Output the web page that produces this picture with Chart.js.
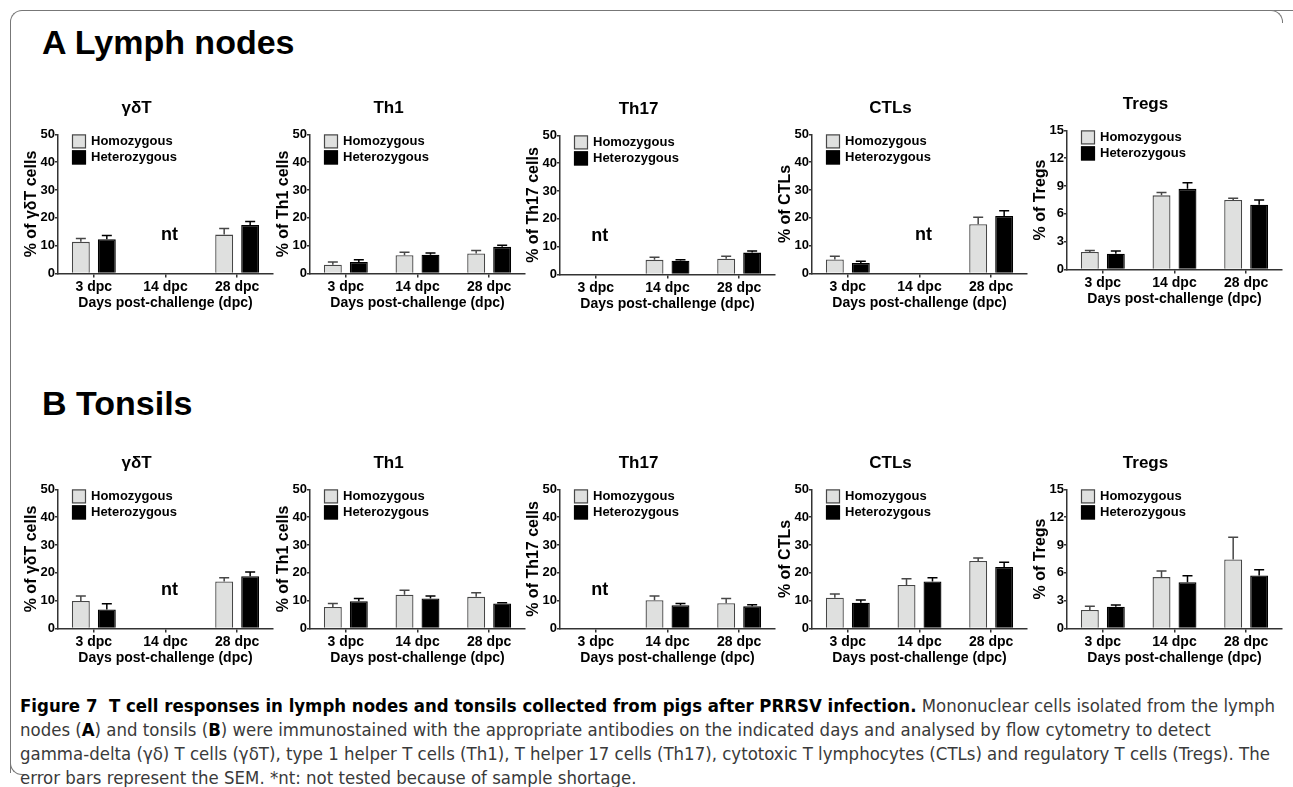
<!DOCTYPE html>
<html>
<head>
<meta charset="utf-8">
<script src="https://cdn.jsdelivr.net/npm/chart.js@4.4.1/dist/chart.umd.min.js"></script>
<style>
  html, body { margin: 0; padding: 0; background: #fff; }
  body { width: 1293px; height: 787px; position: relative; overflow: hidden; font-family: "Liberation Sans", Arial, sans-serif; }
  canvas { position: absolute; }
  .frame { position: absolute; left: 10px; top: 10px; width: 1290px; height: 762px; border-top: 1px solid #777; border-left: 1px solid #777; border-top-left-radius: 12px; }
  .corner-tr { position: absolute; left: 1268px; top: 10px; width: 14px; height: 12px; border-top: 1px solid #777; border-right: 1px solid #777; border-top-right-radius: 12px; background: #fff; }
  .corner-bl { position: absolute; left: 10px; top: 762px; width: 14px; height: 12px; border-left: 1px solid #777; border-bottom: 1px solid #777; border-bottom-left-radius: 12px; }
  .section { position: absolute; left: 42px; font-weight: bold; font-size: 34px; color: #000; line-height: 1; }
  .caption { position: absolute; left: 20px; top: 694px; font-family: "Liberation Sans Narrow", "DejaVu Sans Condensed", "Liberation Sans", sans-serif; font-size: 17px; line-height: 24px; color: #3a3a3a; }
  .caption div { white-space: nowrap; transform-origin: 0 50%; }
  .caption b { color: #000; }
</style>
</head>
<body>
<div class="frame"></div>
<div class="corner-tr"></div>
<div class="corner-bl"></div>
<div class="section" style="top:25px">A Lymph nodes</div>
<div class="section" style="top:386px">B Tonsils</div>

<canvas id="ln0"></canvas><canvas id="ln1"></canvas><canvas id="ln2"></canvas><canvas id="ln3"></canvas><canvas id="ln4"></canvas>
<canvas id="to0"></canvas><canvas id="to1"></canvas><canvas id="to2"></canvas><canvas id="to3"></canvas><canvas id="to4"></canvas>

<div class="caption" id="caption">
  <div><b>Figure 7&nbsp; T cell responses in lymph nodes and tonsils collected from pigs after PRRSV infection.</b> Mononuclear cells isolated from the lymph</div>
  <div>nodes (<b>A</b>) and tonsils (<b>B</b>) were immunostained with the appropriate antibodies on the indicated days and analysed by flow cytometry to detect</div>
  <div>gamma-delta (γδ) T cells (γδT), type 1 helper T cells (Th1), T helper 17 cells (Th17), cytotoxic T lymphocytes (CTLs) and regulatory T cells (Tregs). The</div>
  <div>error bars represent the SEM. *nt: not tested because of sample shortage.</div>
</div>

<script>
const categories = ['3 dpc', '14 dpc', '28 dpc'];
const seriesNames = ['Homozygous', 'Heterozygous'];
const panelTitles = ['γδT', 'Th1', 'Th17', 'CTLs', 'Tregs'];
const yAxisTitles = ['% of γδT cells', '% of Th1 cells', '% of Th17 cells', '% of CTLs', '% of Tregs'];
const yMax = [50, 50, 50, 50, 15];
const yStep = [10, 10, 10, 10, 3];

// A Lymph nodes: mean and SEM per day, null = not tested
const lnGdtHomo = [11.4, null, 14.0];
const lnGdtHomoSem = [1.2, null, 2.2];
const lnGdtHetero = [12.3, null, 17.5];
const lnGdtHeteroSem = [1.4, null, 1.2];

const lnTh1Homo = [3.2, 6.6, 7.2];
const lnTh1HomoSem = [1.0, 1.1, 1.1];
const lnTh1Hetero = [4.2, 6.8, 9.6];
const lnTh1HeteroSem = [0.8, 0.6, 0.6];

const lnTh17Homo = [null, 5.3, 5.7];
const lnTh17HomoSem = [null, 0.9, 0.9];
const lnTh17Hetero = [null, 5.0, 7.9];
const lnTh17HeteroSem = [null, 0.3, 0.6];

const lnCtlHomo = [5.1, null, 17.7];
const lnCtlHomoSem = [1.1, null, 2.5];
const lnCtlHetero = [3.8, null, 20.7];
const lnCtlHeteroSem = [0.6, null, 1.9];

const lnTregHomo = [1.9, 8.0, 7.5];
const lnTregHomoSem = [0.17, 0.3, 0.2];
const lnTregHetero = [1.7, 8.7, 7.0];
const lnTregHeteroSem = [0.3, 0.65, 0.5];

// B Tonsils
const toGdtHomo = [9.9, null, 16.9];
const toGdtHomoSem = [1.8, null, 1.4];
const toGdtHetero = [6.9, null, 18.8];
const toGdtHeteroSem = [2.0, null, 1.5];

const toTh1Homo = [7.8, 12.2, 11.4];
const toTh1HomoSem = [1.2, 1.6, 1.5];
const toTh1Hetero = [9.8, 10.8, 9.0];
const toTh1HeteroSem = [1.0, 0.9, 0.3];

const toTh17Homo = [null, 10.2, 9.1];
const toTh17HomoSem = [null, 1.5, 1.7];
const toTh17Hetero = [null, 8.4, 8.0];
const toTh17HeteroSem = [null, 0.6, 0.6];

const toCtlHomo = [11.1, 15.7, 24.3];
const toCtlHomoSem = [1.3, 2.2, 1.1];
const toCtlHetero = [9.3, 16.9, 22.1];
const toCtlHeteroSem = [1.0, 1.4, 1.7];

const toTregHomo = [2.0, 5.55, 7.45];
const toTregHomoSem = [0.4, 0.65, 2.4];
const toTregHetero = [2.36, 5.0, 5.73];
const toTregHeteroSem = [0.18, 0.7, 0.6];

// which day was not tested in each panel (index into categories)
const lnNotTested = [1, null, 0, 1, null];
const toNotTested = [1, null, 0, null, null];

const FONT = '"Liberation Sans", Arial, Helvetica, sans-serif';
const axisX = [58, 310, 560, 812, 1067];
const rowTop = [97.6, 452.6];
const lnShift = [0, 0, 1, 0, -4];

const errorBars = {
    id: 'errorBars',
    afterDatasetsDraw(chart) {
        const ctx = chart.ctx;
        const y = chart.scales.y;
        chart.data.datasets.forEach((ds, i) => {
            chart.getDatasetMeta(i).data.forEach((bar, j) => {
                const v = ds.data[j], e = ds.sem[j];
                if (v == null || e == null) return;
                const top = y.getPixelForValue(v + e);
                ctx.save();
                ctx.strokeStyle = ds.borderColor;
                ctx.lineWidth = 1.5;
                ctx.beginPath();
                ctx.moveTo(bar.x, bar.y);
                ctx.lineTo(bar.x, top);
                ctx.moveTo(bar.x - 5, top);
                ctx.lineTo(bar.x + 5, top);
                ctx.stroke();
                ctx.restore();
            });
        });
    }
};

const insideLegend = {
    id: 'insideLegend',
    afterDraw(chart) {
        const { ctx, chartArea } = chart;
        chart.data.datasets.forEach((ds, i) => {
            const x = chartArea.left + 14;
            const yc = chartArea.top + 7 + i * 16;
            ctx.save();
            ctx.fillStyle = ds.backgroundColor;
            ctx.fillRect(x, yc - 7, 14, 14);
            ctx.strokeStyle = ds.borderColor;
            ctx.lineWidth = 1.2;
            ctx.strokeRect(x + 0.5, yc - 6.5, 13, 13);
            ctx.fillStyle = '#000';
            ctx.font = 'bold 13px ' + FONT;
            ctx.textBaseline = 'middle';
            ctx.fillText(ds.label, x + 19, yc + 0.5);
            ctx.restore();
        });
    }
};

const notTestedLabel = {
    id: 'notTestedLabel',
    afterDraw(chart, args, opts) {
        if (opts.index == null) return;
        const { ctx, scales } = chart;
        const x = scales.x.getPixelForValue(opts.index) + 4;
        const y = scales.y.getPixelForValue(scales.y.max * 0.28);
        ctx.save();
        ctx.fillStyle = '#000';
        ctx.font = 'bold 18px ' + FONT;
        ctx.textAlign = 'center';
        ctx.textBaseline = 'middle';
        ctx.fillText('nt', x, y);
        ctx.restore();
    }
};

function makePanel(id, k, top, homo, homoSem, hetero, heteroSem, ntIndex) {
    const canvas = document.getElementById(id);
    canvas.width = 277;
    canvas.height = 214;
    canvas.style.left = (axisX[k] - 58) + 'px';
    canvas.style.top = top + 'px';
    return new Chart(canvas, {
        type: 'bar',
        data: {
            labels: categories,
            datasets: [
                { label: seriesNames[0], data: homo, sem: homoSem, backgroundColor: '#dfe0df', borderColor: '#474747', borderWidth: 1.3 },
                { label: seriesNames[1], data: hetero, sem: heteroSem, backgroundColor: '#000', borderColor: '#000', borderWidth: 1.3 }
            ]
        },
        options: {
            responsive: false,
            animation: false,
            devicePixelRatio: 1,
            layout: { padding: { left: 0, right: 4, top: 0, bottom: 0 } },
            datasets: { bar: { categoryPercentage: 0.725, barPercentage: 0.69 } },
            plugins: {
                legend: { display: false },
                tooltip: { enabled: false },
                title: { display: true, text: panelTitles[k], color: '#000', font: { family: FONT, size: 17, weight: 'bold' }, padding: { top: 0, bottom: 16 } },
                notTestedLabel: { index: ntIndex }
            },
            scales: {
                x: {
                    grid: { drawOnChartArea: false, offset: false, tickLength: 4, color: '#333', lineWidth: 1.5 },
                    border: { color: '#333', width: 1.5 },
                    ticks: { color: '#000', font: { family: FONT, size: 14, weight: 'bold' }, padding: 1, maxRotation: 0 },
                    title: { display: true, text: 'Days post-challenge (dpc)', color: '#000', font: { family: FONT, size: 14, weight: 'bold' }, padding: 0 },
                    afterFit: s => { s.height = 38.4; }
                },
                y: {
                    min: 0,
                    max: yMax[k],
                    grid: { drawOnChartArea: false, tickLength: 3, color: '#333', lineWidth: 1.5 },
                    border: { color: '#333', width: 1.5 },
                    ticks: { stepSize: yStep[k], color: '#000', font: { family: FONT, size: 13, weight: 'bold' }, padding: 0 },
                    title: { display: true, text: yAxisTitles[k], color: '#000', font: { family: FONT, size: 16, weight: 'bold' }, padding: { top: 22, bottom: 0 } },
                    afterFit: s => { s.width = 58; }
                }
            }
        },
        plugins: [errorBars, insideLegend, notTestedLabel]
    });
}

window.addEventListener('DOMContentLoaded', () => {
    makePanel('ln0', 0, rowTop[0] + lnShift[0], lnGdtHomo, lnGdtHomoSem, lnGdtHetero, lnGdtHeteroSem, lnNotTested[0]);
    makePanel('ln1', 1, rowTop[0] + lnShift[1], lnTh1Homo, lnTh1HomoSem, lnTh1Hetero, lnTh1HeteroSem, lnNotTested[1]);
    makePanel('ln2', 2, rowTop[0] + lnShift[2], lnTh17Homo, lnTh17HomoSem, lnTh17Hetero, lnTh17HeteroSem, lnNotTested[2]);
    makePanel('ln3', 3, rowTop[0] + lnShift[3], lnCtlHomo, lnCtlHomoSem, lnCtlHetero, lnCtlHeteroSem, lnNotTested[3]);
    makePanel('ln4', 4, rowTop[0] + lnShift[4], lnTregHomo, lnTregHomoSem, lnTregHetero, lnTregHeteroSem, lnNotTested[4]);

    makePanel('to0', 0, rowTop[1], toGdtHomo, toGdtHomoSem, toGdtHetero, toGdtHeteroSem, toNotTested[0]);
    makePanel('to1', 1, rowTop[1], toTh1Homo, toTh1HomoSem, toTh1Hetero, toTh1HeteroSem, toNotTested[1]);
    makePanel('to2', 2, rowTop[1], toTh17Homo, toTh17HomoSem, toTh17Hetero, toTh17HeteroSem, toNotTested[2]);
    makePanel('to3', 3, rowTop[1], toCtlHomo, toCtlHomoSem, toCtlHetero, toCtlHeteroSem, toNotTested[3]);
    makePanel('to4', 4, rowTop[1], toTregHomo, toTregHomoSem, toTregHetero, toTregHeteroSem, toNotTested[4]);

    // squeeze the caption lines to the width of the printed column
    const lines = document.querySelectorAll('#caption div');
    const scale = 1255 / lines[0].getBoundingClientRect().width;
    lines.forEach(l => { l.style.transform = 'scaleX(' + scale + ')'; });
});
</script>
</body>
</html>
